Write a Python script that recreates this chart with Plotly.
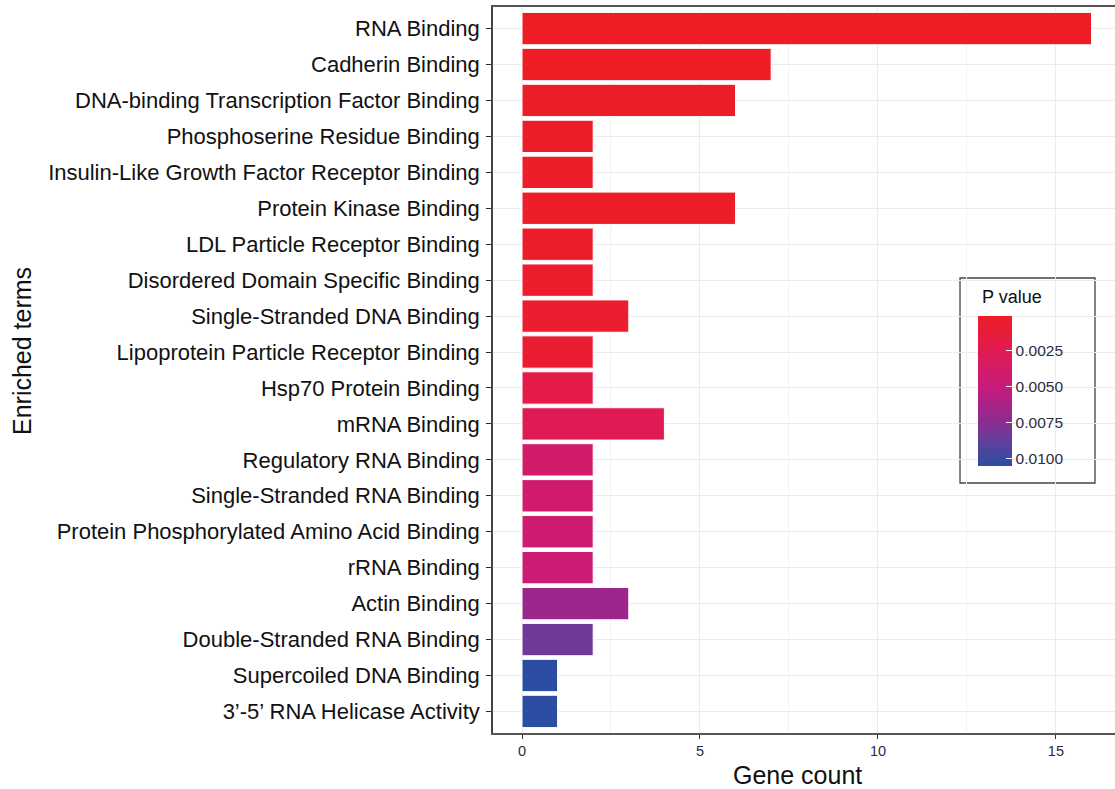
import plotly.graph_objects as go

# Enriched GO terms, listed top to bottom
terms = [
    "RNA Binding",
    "Cadherin Binding",
    "DNA-binding Transcription Factor Binding",
    "Phosphoserine Residue Binding",
    "Insulin-Like Growth Factor Receptor Binding",
    "Protein Kinase Binding",
    "LDL Particle Receptor Binding",
    "Disordered Domain Specific Binding",
    "Single-Stranded DNA Binding",
    "Lipoprotein Particle Receptor Binding",
    "Hsp70 Protein Binding",
    "mRNA Binding",
    "Regulatory RNA Binding",
    "Single-Stranded RNA Binding",
    "Protein Phosphorylated Amino Acid Binding",
    "rRNA Binding",
    "Actin Binding",
    "Double-Stranded RNA Binding",
    "Supercoiled DNA Binding",
    "3\u2019-5\u2019 RNA Helicase Activity",
]
gene_count = [16, 7, 6, 2, 2, 6, 2, 2, 3, 2, 2, 4, 2, 2, 2, 2, 3, 2, 1, 1]
p_value = [0.0001, 0.0001, 0.0002, 0.0002, 0.0003, 0.0003, 0.0004, 0.0005,
           0.0006, 0.0008, 0.0020, 0.0026, 0.0039, 0.0041, 0.0043, 0.0045,
           0.0068, 0.0083, 0.0105, 0.0105]
p_ticks = [0.0025, 0.0050, 0.0075, 0.0100]
p_tick_text = ["0.0025", "0.0050", "0.0075", "0.0100"]
p_min, p_max = 0.0001, 0.0105

# figure geometry (pixels)
W, H = 1115, 789
L, R, T, B = 493, 0, 7, 56
pw, ph = W - L - R, H - T - B

def px_x(x):
    return (x - L) / pw

def px_y(y):
    return (H - B - y) / ph

# colour scale runs on -p so small p sits at the top of the colour bar
colorscale = [
    [0.00, "#2B4EA2"],
    [0.19, "#6A3D9A"],
    [0.29, "#8B2C92"],
    [0.53, "#C71B7C"],
    [0.77, "#E11B52"],
    [1.00, "#EE1D25"],
]

fig = go.Figure(go.Bar(
    x=gene_count,
    y=terms,
    orientation="h",
    width=0.9,
    marker=dict(
        color=[-p for p in p_value],
        colorscale=colorscale,
        cmin=-p_max,
        cmax=-p_min,
        line=dict(color="white", width=1),
        showscale=True,
        colorbar=dict(
            x=px_x(978), xanchor="left",
            y=px_y(391), yanchor="middle",
            thickness=34, thicknessmode="pixels",
            len=150, lenmode="pixels",
            xpad=0, ypad=0,
            outlinewidth=0,
            tickmode="array",
            tickvals=[-v for v in p_ticks],
            ticktext=p_tick_text,
            ticks="inside", ticklen=6, tickcolor="white", tickwidth=1,
            tickfont=dict(family="Liberation Sans, Arial", size=15.5, color="#2b2b45"),
        ),
    ),
    hovertemplate="%{y}: %{x}<extra></extra>",
))

fig.update_layout(
    width=W, height=H,
    margin=dict(l=L, r=R, t=T, b=B, pad=0),
    paper_bgcolor="white",
    plot_bgcolor="white",
    font=dict(family="Liberation Sans, Arial", color="#1a1a1a"),
    bargap=0.1,
    showlegend=False,
    xaxis=dict(
        range=[-0.815, 16.66],
        tickvals=[0, 5, 10, 15],
        ticks="outside", ticklen=4, tickcolor="#333333", tickwidth=1.2,
        tickfont=dict(size=14.5, color="#2b2b45"),
        showgrid=True, gridcolor="#EBEBEB", gridwidth=1.1,
        minor=dict(tickvals=[2.5, 7.5, 12.5], showgrid=True,
                   gridcolor="#F2F2F2", gridwidth=0.6, ticks=""),
        zeroline=False,
        showline=True, linecolor="#555555", linewidth=1.5, mirror=True,
        title=dict(text=""),
    ),
    yaxis=dict(
        categoryorder="array",
        categoryarray=terms[::-1],
        range=[-0.6, len(terms) - 0.4],
        ticks="outside", ticklen=5, tickcolor="#333333", tickwidth=1.2,
        tickfont=dict(size=22, color="#111111"),
        showgrid=True, gridcolor="#EBEBEB", gridwidth=1.1,
        zeroline=False,
        showline=True, linecolor="#444444", linewidth=1.6,
        ticklabelstandoff=2,
        title=dict(text=""),
    ),
)

# axis titles
fig.add_annotation(
    text="Gene count",
    xref="paper", yref="paper",
    x=px_x(797), y=px_y(775), xanchor="center", yanchor="middle",
    showarrow=False, font=dict(size=25, color="#111111"),
)
fig.add_annotation(
    text="Enriched terms", textangle=-90,
    xref="paper", yref="paper",
    x=px_x(22), y=px_y(351), xanchor="center", yanchor="middle",
    showarrow=False, font=dict(size=25, color="#111111"),
)

# legend frame and title
fig.add_shape(
    type="rect", xref="paper", yref="paper",
    x0=px_x(960), x1=px_x(1095), y0=px_y(483), y1=px_y(278),
    line=dict(color="#444444", width=1.3), fillcolor="white", layer="below",
)
fig.add_annotation(
    text="P value", xref="paper", yref="paper",
    x=px_x(980), y=px_y(297), xanchor="left", yanchor="middle",
    showarrow=False, font=dict(size=18, color="#111111"),
)

fig.write_html("out.html")
